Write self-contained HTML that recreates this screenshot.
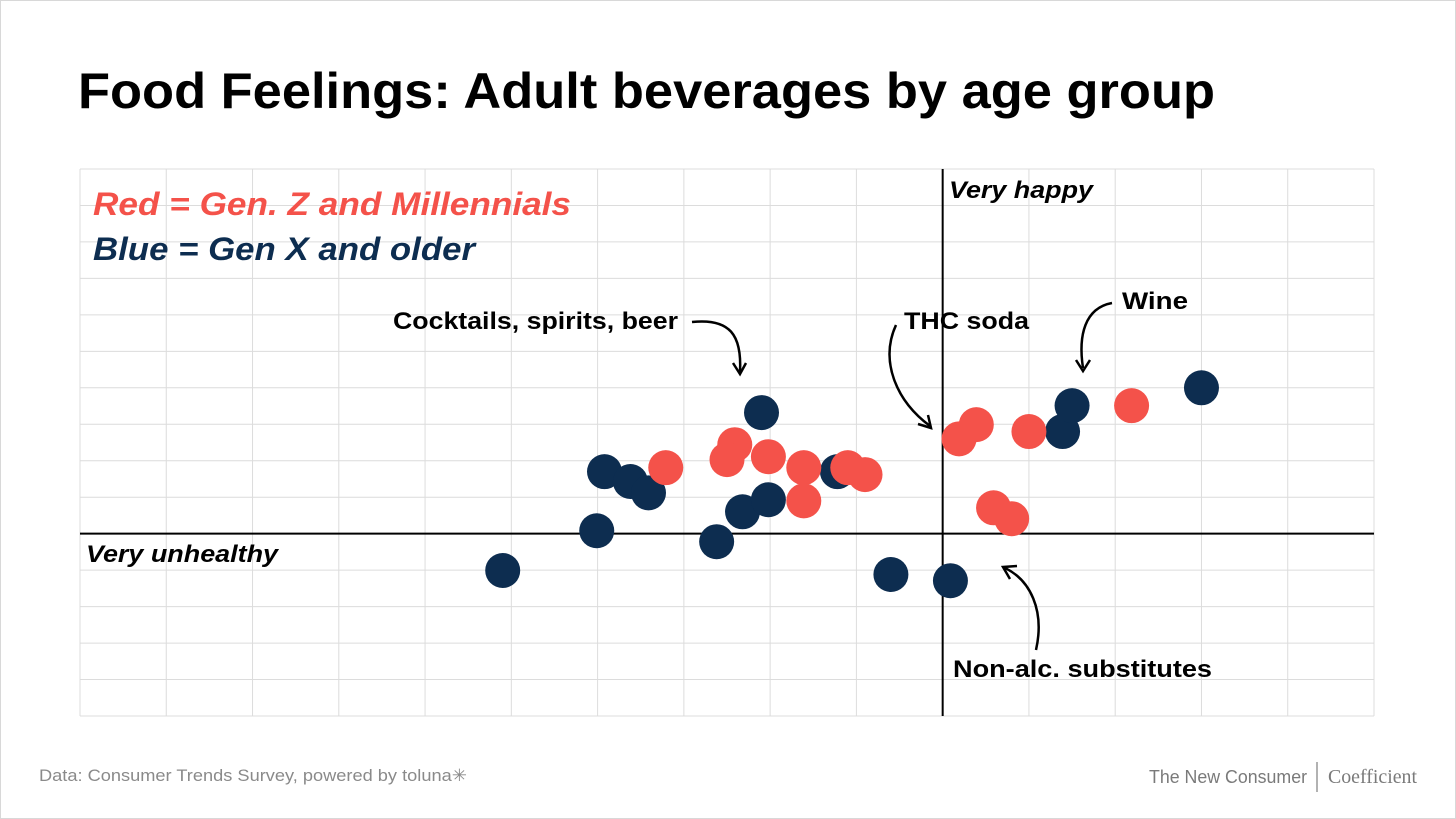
<!DOCTYPE html>
<html><head><meta charset="utf-8"><style>
body{margin:0;width:1456px;height:819px;overflow:hidden;background:#fff;font-family:"Liberation Sans",sans-serif}
#frame{position:absolute;left:0;top:0;width:1454px;height:817px;border:1px solid #d8d8d8}
</style></head><body>
<div id="frame"></div>
<svg id="chart" width="1456" height="819" style="position:absolute;left:0;top:0">
<text x="78" y="108" font-size="50" font-weight="bold" fill="#000" textLength="1137" lengthAdjust="spacingAndGlyphs">Food Feelings: Adult beverages by age group</text>
<g id="grid"></g>
<g id="axes"></g>
<text x="93" y="215" font-size="32" font-weight="bold" font-style="italic" fill="#f4524a" textLength="478" lengthAdjust="spacingAndGlyphs">Red = Gen. Z and Millennials</text>
<text x="93" y="260" font-size="32" font-weight="bold" font-style="italic" fill="#0d2d50" textLength="382" lengthAdjust="spacingAndGlyphs">Blue = Gen X and older</text>
<text x="949" y="198" font-size="24" font-weight="bold" font-style="italic" textLength="144" lengthAdjust="spacingAndGlyphs">Very happy</text>
<text x="86" y="562" font-size="24" font-weight="bold" font-style="italic" textLength="192" lengthAdjust="spacingAndGlyphs">Very unhealthy</text>
<text x="393" y="329" font-size="24" font-weight="bold" textLength="285" lengthAdjust="spacingAndGlyphs">Cocktails, spirits, beer</text>
<path d="M692 322 C730 318 742 335 740 372" fill="none" stroke="#000" stroke-width="2.5"/><path d="M733 363 L740 374 L746 363" fill="none" stroke="#000" stroke-width="2.5"/>
<text x="904" y="329" font-size="24" font-weight="bold" textLength="125" lengthAdjust="spacingAndGlyphs">THC soda</text>
<path d="M896 325 C880 360 895 400 930 426" fill="none" stroke="#000" stroke-width="2.5"/><path d="M918 424 L931 428 L928 415" fill="none" stroke="#000" stroke-width="2.5"/>
<text x="1122" y="309" font-size="24" font-weight="bold" textLength="66" lengthAdjust="spacingAndGlyphs">Wine</text>
<path d="M1112 303 C1085 308 1078 335 1083 368" fill="none" stroke="#000" stroke-width="2.5"/><path d="M1076 360 L1083 371 L1090 360" fill="none" stroke="#000" stroke-width="2.5"/>
<text x="953" y="677" font-size="24" font-weight="bold" textLength="259" lengthAdjust="spacingAndGlyphs">Non-alc. substitutes</text>
<path d="M1036 650 C1045 610 1030 580 1005 568" fill="none" stroke="#000" stroke-width="2.5"/><path d="M1010 579 L1003 567 L1017 566" fill="none" stroke="#000" stroke-width="2.5"/>
<g id="points"></g>
<text x="39" y="781" font-size="17" fill="#8a8a8a" textLength="428" lengthAdjust="spacingAndGlyphs">Data: Consumer Trends Survey, powered by toluna✳</text>
<text x="1149" y="783" font-size="18" fill="#7a7a7a" textLength="158" lengthAdjust="spacingAndGlyphs">The New Consumer</text>
<line x1="1317" y1="762" x2="1317" y2="792" stroke="#999" stroke-width="1.5"/>
<text x="1328" y="783" font-size="20" fill="#7a7a7a" font-family="Liberation Serif,serif" textLength="89" lengthAdjust="spacingAndGlyphs">Coefficient</text>
</svg>
<script>
const redX=[-3.21,-2.41,-2.5,-2.02,-1.61,-1.61,-1.1,-0.9,0.19,0.39,1.0,0.59,0.8,2.19];
const redY=[1.81,2.44,2.03,2.11,1.81,0.9,1.81,1.62,2.6,2.99,2.8,0.71,0.41,3.51];
const blueX=[-5.1,-4.01,-3.92,-3.62,-3.41,-2.62,-2.32,-2.02,-2.1,-1.22,-0.6,0.09,1.39,1.5,3.0];
const blueY=[-1.01,0.08,1.7,1.43,1.12,-0.22,0.6,0.93,3.32,1.7,-1.12,-1.29,2.8,3.51,4.0];
const xMin=-10,xMax=5,yMin=-5,yMax=10;
const L=80,R=1374,T=169,B=716;
const sx=v=>L+(v-xMin)/(xMax-xMin)*(R-L);
const sy=v=>B-(v-yMin)/(yMax-yMin)*(B-T);
const NS='http://www.w3.org/2000/svg';
const grid=document.getElementById('grid');
for(let i=xMin;i<=xMax;i++){const l=document.createElementNS(NS,'line');


l.setAttribute('x1',sx(i));l.setAttribute('x2',sx(i));l.setAttribute('y1',T);l.setAttribute('y2',B);l.setAttribute('stroke','#dcdcdc');l.setAttribute('stroke-width','1');grid.appendChild(l);}
for(let j=yMin;j<=yMax;j++){const l=document.createElementNS(NS,'line');


l.setAttribute('y1',sy(j));l.setAttribute('y2',sy(j));l.setAttribute('x1',L);l.setAttribute('x2',R);l.setAttribute('stroke','#dcdcdc');l.setAttribute('stroke-width','1');grid.appendChild(l);}
const axes=document.getElementById('axes');
let a=document.createElementNS(NS,'line');


a.setAttribute('x1',sx(0));a.setAttribute('x2',sx(0));a.setAttribute('y1',T);a.setAttribute('y2',B);a.setAttribute('stroke','#000');a.setAttribute('stroke-width','2');axes.appendChild(a);
a=document.createElementNS(NS,'line');


a.setAttribute('y1',sy(0));a.setAttribute('y2',sy(0));a.setAttribute('x1',L);a.setAttribute('x2',R);a.setAttribute('stroke','#000');a.setAttribute('stroke-width','2');axes.appendChild(a);
const pts=document.getElementById('points');
function dot(x,y,c,n){const e=document.createElementNS(NS,'circle');


e.setAttribute('cx',sx(x));e.setAttribute('cy',sy(y));e.setAttribute('r',17.5);e.setAttribute('fill',c);pts.appendChild(e);}
blueX.forEach((x,i)=>dot(x,blueY[i],'#0d2d50','point-gen-x-older'));
redX.forEach((x,i)=>dot(x,redY[i],'#f4524a','point-gen-z-millennials'));
</script>
</body></html>
